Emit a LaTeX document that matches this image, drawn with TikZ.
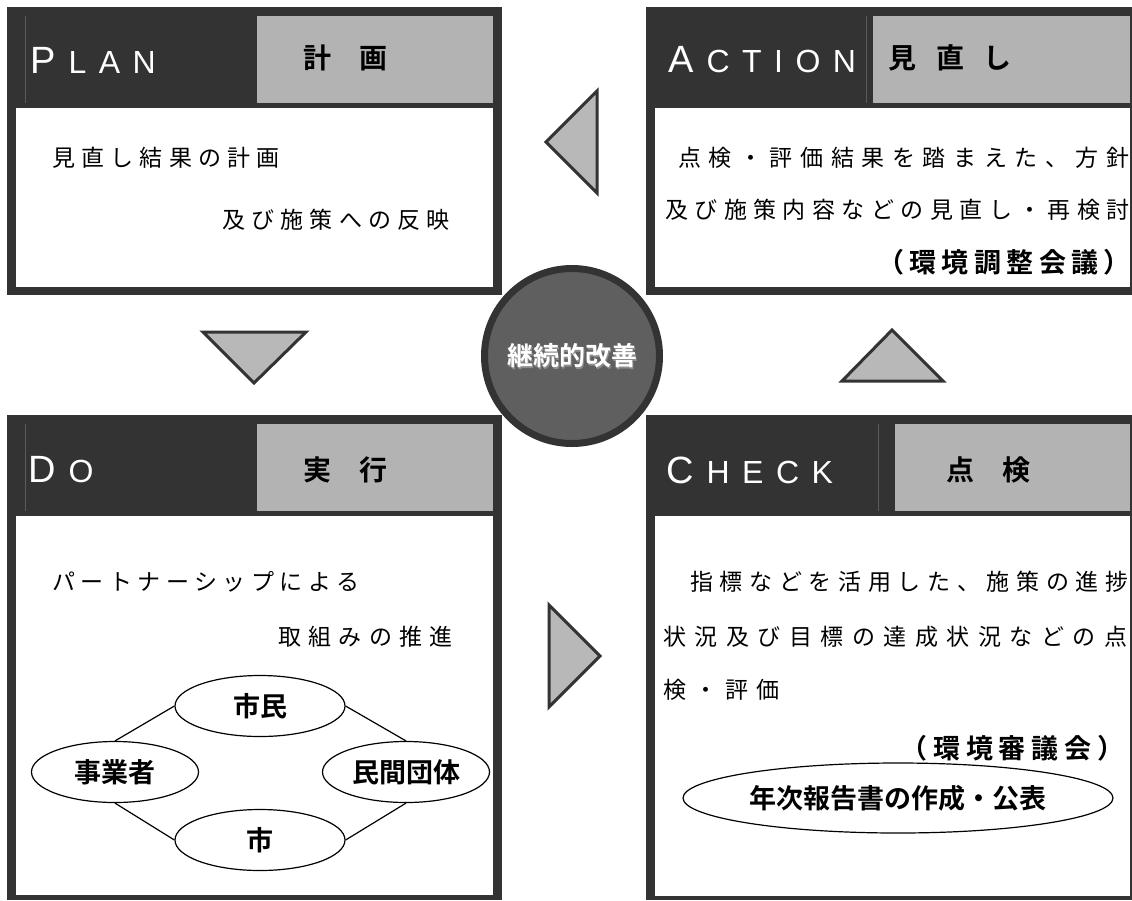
\documentclass[tikz,border=0pt]{standalone}
\usepackage{fontspec}
\setmainfont{Liberation Sans}
\newfontfamily\jp{Noto Sans CJK JP}
\newfontfamily\jpb{Noto Sans CJK JP Bold}
\usetikzlibrary{shapes.geometric}
\definecolor{dk}{HTML}{333333}
\definecolor{hg}{HTML}{B3B3B3}
\definecolor{tg}{HTML}{B8B8B8}
\definecolor{cf}{HTML}{5F5F5F}
\definecolor{sl}{HTML}{5C5C5C}
\newcommand\lsp[2]{{\addfontfeature{LetterSpace=#1}#2}}
\newcommand\ttl[2]{{\fontsize{38}{38}\selectfont #1}\hspace{13pt}{\fontsize{32}{32}\selectfont\addfontfeature{LetterSpace=39}#2}}
\tikzset{
  body/.style={inner sep=0, anchor=west, font=\jp\fontsize{23}{23}\selectfont, text=black},
  bodyb/.style={inner sep=0, anchor=east, font=\jpb\fontsize{27}{27}\selectfont, text=black},
  title/.style={inner sep=0, anchor=west, text=white},
  hdr/.style={inner sep=0, font=\jpb\fontsize{28}{28}\selectfont, text=black},
  tri/.style={fill=tg, draw=dk, line width=3, line join=miter},
  oval/.style={ellipse, draw=black, line width=1.2, inner sep=0, font=\jpb\fontsize{27}{27}\selectfont},
  conn/.style={draw=black, line width=1.2},
  sep/.style={draw=sl, line width=1}
}
\begin{document}
\begin{tikzpicture}[x=1pt, y=-1pt]
\useasboundingbox (0,0) rectangle (1132,900);
\fill[white] (0,0) rectangle (1132,900);

% ---------- PLAN ----------
\fill[dk] (7,7) rectangle (502,295);
\fill[white] (16,108) rectangle (493,287);
\fill[hg] (257,16) rectangle (493,103);
\draw[sep] (25,16) -- (25,103);
\node[title] (plant) at (30,60) {\ttl{P}{LAN}};
\node[hdr] (planj) at (345,58) {計　画};
\node[body] (plan1) at (52,158) {\lsp{27}{見直し結果の計画}};
\node[body] (plan2) at (222,220) {\lsp{27}{及び施策への反映}};

% ---------- ACTION ----------
\fill[dk] (646,7) rectangle (1132,295);
\fill[white] (655,108) rectangle (1130,287);
\fill[hg] (873,16) rectangle (1130,103);
\draw[sep] (866,16) -- (866,103);
\node[title] (actt) at (668,60) {\ttl{A}{CTION}};
\node[hdr] (actj) at (950,58) {見\hspace{20pt}直\hspace{20pt}し};
\node[body] (act1) at (678,158) {\lsp{33}{点検・評価結果を踏まえた、方針}};
\node[body] (act2) at (665,210) {\lsp{28}{及び施策内容などの見直し・再検討}};
\node[bodyb] (act3) at (1131,262) {\lsp{20}{（環境調整会議）}};

% ---------- DO ----------
\fill[dk] (7,415) rectangle (502,900);
\fill[white] (16,516) rectangle (493,895);
\fill[hg] (257,424) rectangle (493,511);
\draw[sep] (25,424) -- (25,511);
\node[title] (dot) at (28,470) {\ttl{D}{O}};
\node[hdr] (doj) at (345,470) {実　行};
\node[body] (do1) at (52,582) {\lsp{24}{パートナーシップによる}};
\node[body] (do2) at (278,637) {\lsp{32}{取組みの推進}};

\node[oval, minimum width=170, minimum height=61] (shimin) at (260,706) {市民};
\node[oval, minimum width=167, minimum height=61] (jigyo) at (115,772) {事業者};
\node[oval, minimum width=167, minimum height=61] (dantai) at (406,772) {民間団体};
\node[oval, minimum width=170, minimum height=61] (shi) at (260,840) {市};
\draw[conn] (jigyo.north) -- (shimin.west);
\draw[conn] (jigyo.south) -- (shi.west);
\draw[conn] (shimin.east) -- (dantai.north);
\draw[conn] (shi.east) -- (dantai.south);

% ---------- CHECK ----------
\fill[dk] (646,415) rectangle (1132,900);
\fill[white] (655,516) rectangle (1130,896);
\fill[hg] (895,424) rectangle (1130,511);
\draw[sep] (878,424) -- (878,511);
\node[title] (chkt) at (666,470) {\ttl{C}{HECK}};
\node[hdr] (chkj) at (988,470) {点　検};
\node[body] (chk1) at (690,582) {\lsp{29}{指標などを活用した、施策の進捗}};
\node[body] (chk2) at (663,637) {\lsp{37}{状況及び目標の達成状況などの点}};
\node[body] (chk3) at (663,690) {\lsp{35}{検・評価}};
\node[bodyb] (chk4) at (1125,748) {\lsp{22}{（環境審議会）}};
\node[oval, minimum width=430, minimum height=70, font=\jpb\fontsize{27}{27}\selectfont] (report) at (898,798) {年次報告書の作成・公表};

% ---------- arrows (triangles) ----------
\draw[tri] (546,142) -- (597,91) -- (597,193) -- cycle;
\draw[tri] (203,332) -- (306,332) -- (254,383) -- cycle;
\draw[tri] (842,381) -- (943,381) -- (892,330) -- cycle;
\draw[tri] (549,605) -- (549,707) -- (600,656) -- cycle;

% ---------- center circle ----------
\node[circle, draw=dk, line width=7, fill=cf, minimum size=175, inner sep=0] (kaizen) at (572,356) {};
\node[inner sep=0, text=black!45, font=\jpb\fontsize{26}{26}\selectfont] (kshadow) at (573.5,357.5) {継続的改善};
\node[inner sep=0, text=white, font=\jpb\fontsize{26}{26}\selectfont] (ktext) at (kaizen.center) {継続的改善};
\end{tikzpicture}
\end{document}
